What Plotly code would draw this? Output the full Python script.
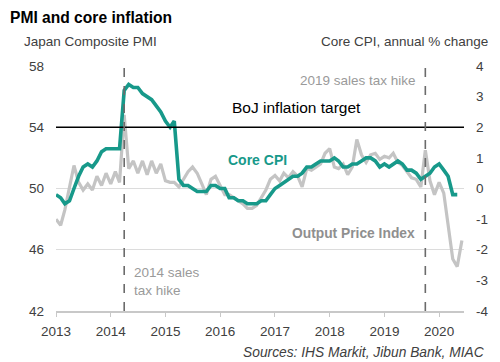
import pandas as pd
import plotly.graph_objects as go

# ---- data ----
months = pd.date_range("2013-01-01", periods=90, freq="MS").strftime("%Y-%m-%d").tolist()

output_price_index = [
    48.0, 47.6, 48.6, 50.2, 51.5, 50.4, 49.9, 50.3, 49.9, 50.8, 50.2, 51.0,   # 2013
    50.3, 51.1, 50.4, 54.8, 51.3, 51.8, 51.0, 51.8, 50.9, 51.8, 51.0, 51.6,   # 2014
    50.5, 50.4, 50.4, 50.1, 50.6, 51.1, 51.4, 51.0, 50.3, 49.6, 50.6, 50.8,   # 2015
    50.2, 49.6, 49.6, 49.4, 49.2, 49.0, 48.7, 48.7, 48.9, 49.4, 49.9, 50.6,   # 2016
    50.85, 50.5, 51.0, 50.7, 51.1, 50.8, 50.1, 51.3, 51.2, 51.4, 51.6, 52.3,  # 2017
    52.6, 51.4, 51.3, 51.6, 50.9, 51.4, 53.2, 52.2, 51.7, 52.2, 52.3, 51.9,   # 2018
    52.1, 52.0, 52.3, 51.7, 51.5, 51.1, 50.7, 50.6, 50.1, 52.5, 50.5, 49.6,   # 2019
    50.4, 49.7, 47.6, 45.4, 44.9, 46.6,                                       # 2020
]

core_cpi = [
    -0.2, -0.3, -0.5, -0.4, 0.0, 0.4, 0.7, 0.8, 0.7, 0.9, 1.2, 1.3,   # 2013
    1.3, 1.3, 1.3, 3.2, 3.4, 3.3, 3.3, 3.1, 3.0, 2.9, 2.7, 2.5,       # 2014
    2.2, 2.0, 2.2, 0.3, 0.1, 0.1, 0.0, -0.1, -0.1, -0.1, 0.1, 0.1,    # 2015
    0.0, 0.0, -0.3, -0.3, -0.4, -0.4, -0.5, -0.5, -0.5, -0.4, -0.4, -0.2,  # 2016
    0.0, 0.1, 0.2, 0.3, 0.4, 0.4, 0.5, 0.7, 0.7, 0.8, 0.9, 0.9,       # 2017
    0.9, 1.0, 0.9, 0.7, 0.7, 0.8, 0.8, 0.9, 1.0, 1.0, 0.9, 0.7,       # 2018
    0.8, 0.7, 0.8, 0.9, 0.8, 0.6, 0.6, 0.5, 0.3, 0.4, 0.5, 0.7,       # 2019
    0.8, 0.6, 0.4, -0.2, -0.2,                                        # 2020
]

year_ticks = ["2013-01-01", "2014-01-01", "2015-01-01", "2016-01-01",
              "2017-01-01", "2018-01-01", "2019-01-01", "2020-01-01"]
year_labels = ["2013", "2014", "2015", "2016", "2017", "2018", "2019", "2020"]
pmi_ticks = [42, 46, 50, 54, 58]
cpi_ticks = [-4, -3, -2, -1, 0, 1, 2, 3, 4]
cpi_labels = ["-4", "-3", "-2", "-1", "0", "1", "2", "3", "4"]
boj_target = 2
tax_hikes = ["2014-04-01", "2019-10-01"]

FONT = "Arial, Liberation Sans, sans-serif"
TEAL = "#17998a"
GREY = "#c4c4c4"
TXT = "#404040"

fig = go.Figure()
fig.add_trace(go.Scatter(x=months[:len(output_price_index)], y=output_price_index,
                         mode="lines", line=dict(color=GREY, width=3.2),
                         yaxis="y", showlegend=False))
fig.add_trace(go.Scatter(x=months[:len(core_cpi)], y=core_cpi,
                         mode="lines", line=dict(color=TEAL, width=3.6),
                         yaxis="y2", showlegend=False))

# BoJ target line
fig.add_shape(type="line", xref="paper", x0=0, x1=1, yref="y2", y0=boj_target, y1=boj_target,
              line=dict(color="black", width=1.5))
# tax hike dashed lines
for d in tax_hikes:
    fig.add_shape(type="line", xref="x", x0=d, x1=d, yref="paper", y0=0, y1=1,
                  line=dict(color="#6b6b6b", width=1.6, dash="dash"))

def ann(text, x, y, xanchor="left", size=13.5, color=TXT, bold=False, italic=False):
    if bold:
        text = "<b>" + text + "</b>"
    if italic:
        text = "<i>" + text + "</i>"
    fig.add_annotation(text=text, xref="paper", yref="paper", x=x, y=y,
                       xanchor=xanchor, yanchor="middle", showarrow=False,
                       font=dict(family=FONT, size=size, color=color), align="left")

L, R, T, B = 56, 466, 66, 311
def px(x):
    return (x - L) / (R - L)
def py(y):
    return (B - y) / (B - T)

ann("PMI and core inflation", px(8), py(17), size=15.6, color="black", bold=True)
ann("Japan Composite PMI", px(22), py(42), size=13.5)
ann("Core CPI, annual % change", px(492), py(42), xanchor="right", size=13.5)
ann("BoJ inflation target", px(298), py(107), xanchor="center", size=15.5, color="black")
ann("2019 sales tax hike", px(420), py(81), xanchor="right", size=13.5, color="#9a9a9a")
ann("Core CPI", px(227), py(160), size=14, color=TEAL, bold=True)
ann("Output Price Index", px(291), py(233), size=13.8, color="#8f8f8f", bold=True)
ann("2014 sales<br>tax hike", px(132), py(281), size=13.5, color="#9a9a9a")
ann("Sources: IHS Markit, Jibun Bank, MIAC", px(489), py(352), xanchor="right",
    size=13.8, color=TXT, italic=True)

fig.update_layout(
    width=500, height=362,
    margin=dict(l=L, r=500 - R, t=T, b=362 - B, pad=0),
    paper_bgcolor="white", plot_bgcolor="white",
    font=dict(family=FONT, size=13.5, color=TXT),
    showlegend=False,
    xaxis=dict(range=["2013-01-01", "2020-06-15"], tickvals=year_ticks, ticktext=year_labels,
               showgrid=False, showline=True, linecolor="#c8c8c8", linewidth=1.5,
               ticks="outside", ticklen=4, tickcolor="#c8c8c8", tickwidth=1,
               ticklabelstandoff=3, zeroline=False,
               tickfont=dict(family=FONT, size=13.5, color=TXT)),
    yaxis=dict(range=[42, 58], tickvals=pmi_ticks, showgrid=True, gridcolor="#dcdcdc",
               gridwidth=1, zeroline=False, showline=False, ticks="",
               ticklabelstandoff=11,
               tickfont=dict(family=FONT, size=13.5, color=TXT)),
    yaxis2=dict(range=[-4, 4], tickvals=cpi_ticks, ticktext=cpi_labels, overlaying="y",
                side="right", showgrid=False, zeroline=False, showline=False, ticks="",
                ticklabelstandoff=11,
                tickfont=dict(family=FONT, size=13.5, color=TXT)),
)

fig.write_html("out.html", config={"displayModeBar": False},
               post_script="document.body.style.margin='0';document.body.style.overflow='hidden';")
